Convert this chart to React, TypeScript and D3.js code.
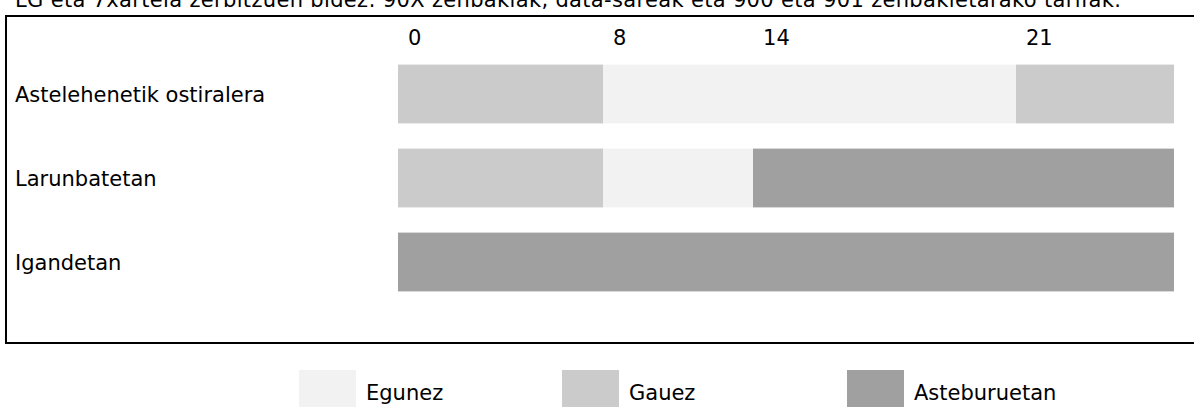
import React from "react";
import * as d3 from "d3";

const title =
  "LG eta 7xartela zerbitzuen bidez: 90X zenbakiak, data-sareak eta 900 eta 901 zenbakietarako tarifak.";
const rows = ["Astelehenetik ostiralera", "Larunbatetan", "Igandetan"];
const seriesNames = ["Egunez", "Gauez", "Asteburuetan"];
const seriesColors = ["#f2f2f2", "#cbcbcb", "#a0a0a0"];
const tickHours = [0, 8, 14, 21, 24];
const tickLabels = ["0", "8", "14", "21"];
// segments per row: [start hour, end hour, series index]
const weekdaySegments = [
  [0, 8, 1],
  [8, 21, 0],
  [21, 24, 1],
];
const saturdaySegments = [
  [0, 8, 1],
  [8, 14, 0],
  [14, 24, 2],
];
const sundaySegments = [[0, 24, 2]];
const rowSegments = [weekdaySegments, saturdaySegments, sundaySegments];

// layout
const W = 1194;
const H = 407;
const FONT = "'DejaVu Sans', Verdana, sans-serif";
const FS = 21;
const plotLeft = 398;
const plotRight = 1174;
// the reference's hour axis is not proportional; relative stops of each tick
const tickStops = [0, 0.2642, 0.4575, 0.7964, 1];
const legendX = [299, 562, 847];

export default function App() {
  const x = d3
    .scaleLinear()
    .domain(tickHours)
    .range(tickStops.map((s) => plotLeft + s * (plotRight - plotLeft)));
  const y = d3.scaleBand().domain(rows).range([52, 304]).paddingInner(0.3).paddingOuter(0.15);

  return (
    <svg
      width={W}
      height={H}
      style={{ position: "absolute", left: 0, top: 0, background: "#fff" }}
      fontFamily={FONT}
    >
      <rect x={0} y={0} width={W} height={H} fill="#fff" />
      <text x={15} y={7} fontSize={FS} fill="#000" textLength={1106} lengthAdjust="spacing">
        {title}
      </text>
      <rect x={6} y={16} width={W + 10} height={327} fill="none" stroke="#000" strokeWidth={2} />
      {tickLabels.map((t, i) => (
        <text key={t} x={x(tickHours[i]) + 10} y={45} fontSize={FS} fill="#000">
          {t}
        </text>
      ))}
      {rows.map((r, ri) => {
        const y0 = y(r) as number;
        const bh = y.bandwidth();
        return (
          <g key={r}>
            <text x={15} y={y0 + bh / 2 + 8} fontSize={FS} fill="#000">
              {r}
            </text>
            {rowSegments[ri].map(([s, e, c], si) => (
              <rect
                key={si}
                x={x(s)}
                y={y0}
                width={x(e) - x(s)}
                height={bh}
                fill={seriesColors[c]}
              />
            ))}
          </g>
        );
      })}
      {seriesNames.map((n, i) => (
        <g key={n}>
          <rect x={legendX[i]} y={370} width={57} height={40} fill={seriesColors[i]} />
          <text x={legendX[i] + 67} y={400} fontSize={FS} fill="#000">
            {n}
          </text>
        </g>
      ))}
    </svg>
  );
}
